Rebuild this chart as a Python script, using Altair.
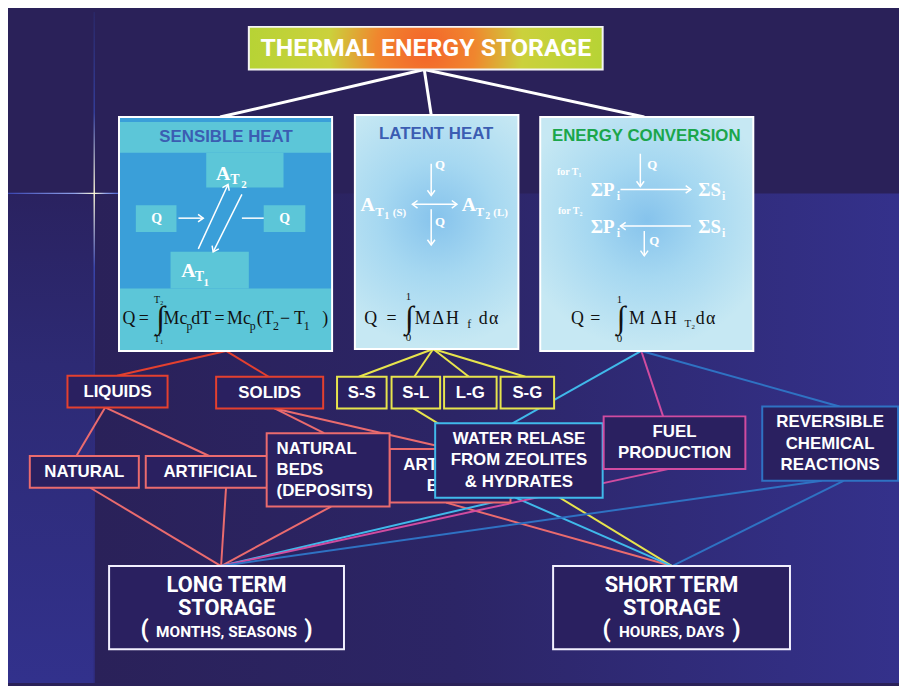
import math
import altair as alt
import pandas as pd

# ---------------- diagram content ----------------
ROOT = "THERMAL ENERGY STORAGE"
METHODS = ["SENSIBLE HEAT", "LATENT HEAT", "ENERGY CONVERSION"]

NODES = ["LIQUIDS", "SOLIDS", "S-S", "S-L", "L-G", "S-G",
         "NATURAL", "ARTIFICIAL", "ARTIFICIAL BEDS", "NATURAL BEDS",
         "WATER", "FUEL", "REVERSIBLE", "LONG", "SHORT"]

NODE_TEXT = {
    "LIQUIDS": ["LIQUIDS"], "SOLIDS": ["SOLIDS"],
    "S-S": ["S-S"], "S-L": ["S-L"], "L-G": ["L-G"], "S-G": ["S-G"],
    "NATURAL": ["NATURAL"], "ARTIFICIAL": ["ARTIFICIAL"],
    "ARTIFICIAL BEDS": ["ARTIFICIAL", "BEDS"],
    "NATURAL BEDS": ["NATURAL", "BEDS", "(DEPOSITS)"],
    "WATER": ["WATER RELASE", "FROM ZEOLITES", "& HYDRATES"],
    "FUEL": ["FUEL", "PRODUCTION"],
    "REVERSIBLE": ["REVERSIBLE", "CHEMICAL", "REACTIONS"],
}
STORAGE_TEXT = {
    "LONG": ["LONG TERM", "STORAGE", "MONTHS, SEASONS"],
    "SHORT": ["SHORT TERM", "STORAGE", "HOURES, DAYS"],
}

NODE_FAMILY = {
    ROOT: "root", "SENSIBLE HEAT": "root", "LATENT HEAT": "root", "ENERGY CONVERSION": "root",
    "LIQUIDS": "sensible", "SOLIDS": "sensible",
    "S-S": "latent", "S-L": "latent", "L-G": "latent", "S-G": "latent",
    "NATURAL": "material", "ARTIFICIAL": "material",
    "ARTIFICIAL BEDS": "material", "NATURAL BEDS": "material",
    "WATER": "water", "FUEL": "fuel", "REVERSIBLE": "reversible",
    "LONG": "storage", "SHORT": "storage",
}

EDGES = [
    (ROOT, "SENSIBLE HEAT"), (ROOT, "LATENT HEAT"), (ROOT, "ENERGY CONVERSION"),
    ("SENSIBLE HEAT", "LIQUIDS"), ("SENSIBLE HEAT", "SOLIDS"),
    ("LATENT HEAT", "S-S"), ("LATENT HEAT", "S-L"), ("LATENT HEAT", "L-G"), ("LATENT HEAT", "S-G"),
    ("ENERGY CONVERSION", "WATER"), ("ENERGY CONVERSION", "FUEL"), ("ENERGY CONVERSION", "REVERSIBLE"),
    ("LIQUIDS", "NATURAL"), ("LIQUIDS", "ARTIFICIAL"),
    ("SOLIDS", "NATURAL BEDS"), ("SOLIDS", "ARTIFICIAL BEDS"),
    ("NATURAL", "LONG"), ("ARTIFICIAL", "LONG"), ("NATURAL BEDS", "LONG"),
    ("ARTIFICIAL BEDS", "SHORT"), ("S-L", "SHORT"),
    ("WATER", "LONG"), ("WATER", "SHORT"), ("FUEL", "LONG"),
    ("REVERSIBLE", "LONG"), ("REVERSIBLE", "SHORT"),
]

# formula / illustration glyphs inside the three method panels
PANEL_SYMBOLS = [  # bold white serif: text, x, y, size
    ("A", 225, 172, 20), ("T", 237, 179, 14), ("2", 246, 184, 11),
    ("A", 190, 270, 20), ("T", 201, 276, 14), ("1", 208, 282, 11),
    ("Q", 158, 218, 14), ("Q", 287, 218, 14),
    ("Q", 444, 163, 13), ("Q", 444, 221, 13),
    ("A", 371, 204, 20), ("T", 383, 211, 13), ("1", 390, 215, 10), ("(S)", 403, 212, 11),
    ("A", 473, 204, 20), ("T", 484, 211, 13), ("2", 492, 215, 10), ("(L)", 505, 212, 11),
    ("ΣP", 608, 189, 19), ("i", 624, 195, 12), ("ΣS", 716, 189, 19), ("i", 730, 195, 12),
    ("ΣP", 608, 226, 19), ("i", 624, 232, 12), ("ΣS", 716, 226, 19), ("i", 730, 232, 12),
    ("Q", 658, 163, 13), ("Q", 660, 240, 13),
]
PANEL_NOTES = [("for T₁", 562, 170, 10), ("for T₂", 563, 210, 10)]
FORMULAS = [  # black serif: text, x, y, size
    ("Q", 130, 319, 18), ("=", 145, 319, 18), ("∫", 162, 318, 32), ("T₂", 160, 300, 10), ("T₁", 160, 339, 10),
    ("Mc", 177, 319, 18), ("p", 191, 326, 12), ("dT", 203, 319, 18), ("=", 221.5, 319, 18),
    ("Mc", 241, 319, 18), ("p", 255, 326, 12), ("(T", 267.5, 319, 18), ("2", 278.5, 326, 12),
    ("−", 287.5, 319, 18), ("T", 302, 319, 18), ("1", 309.5, 326, 12), (")", 328, 319, 18),
    ("Q", 374, 319, 18), ("=", 395, 319, 18), ("∫", 413, 318, 32), ("1", 412, 297, 11), ("0", 412, 338, 11),
    ("M", 426.5, 319, 18), ("Δ", 442, 319, 18), ("H", 456.5, 319, 18), ("f", 473.5, 324, 12),
    ("d", 487.5, 319, 18), ("α", 498, 319, 18),
    ("Q", 582.5, 319, 18), ("=", 600.5, 319, 18), ("∫", 626.5, 318, 32), ("1", 625, 300, 11), ("0", 625, 339, 11),
    ("M", 642.5, 319, 18), ("Δ", 662, 319, 18), ("H", 676.5, 319, 18), ("T", 694, 324, 11), ("2", 699.5, 327, 7),
    ("d", 706.5, 319, 18), ("α", 717, 319, 18),
]

# ---------------- layout (screen pixels) ----------------
BOX = {
    ROOT: (251, 24, 608, 67),
    "SENSIBLE HEAT": (120, 115, 335, 351),
    "LATENT HEAT": (358, 113, 523, 349),
    "ENERGY CONVERSION": (545, 115, 760, 351),
    "LIQUIDS": (68, 376, 169, 408), "SOLIDS": (218, 377, 326, 409),
    "S-S": (340, 377, 390, 409), "S-L": (395, 377, 444, 409),
    "L-G": (448, 377, 501, 409), "S-G": (505, 377, 559, 409),
    "NATURAL": (30, 457, 140, 489), "ARTIFICIAL": (147, 457, 277, 489),
    "ARTIFICIAL BEDS": (393, 450, 515, 504), "NATURAL BEDS": (269, 434, 393, 508),
    "WATER": (439, 424, 608, 499), "FUEL": (609, 417, 752, 470),
    "REVERSIBLE": (769, 407, 906, 482),
    "LONG": (110, 568, 347, 652), "SHORT": (558, 568, 797, 652),
}
EDGE_ANCHORS = [  # x on source bottom, x on target top
    (428, 222), (428, 435), (428, 650),
    (228, 118), (228, 271),
    (437, 362), (437, 418), (437, 473), (437, 530),
    (647, 517), (647, 669), (647, 847),
    (106, 77), (106, 211), (277, 327), (277, 455),
    (91, 223), (228, 223), (334, 223), (450, 678), (417, 678),
    (517, 223), (520, 678), (675, 223), (829, 223), (851, 678),
]
SENSIBLE_TILES = [(121, 120, 334, 151), (208, 151, 286, 186), (137, 204, 178, 231),
                  (266, 204, 308, 231), (172, 251, 251, 288), (121, 288, 334, 350)]
ARROWS = [  # x1, y1, x2, y2, heads
    (180, 217, 205, 217, "end"), (244, 217, 266, 217, "none"),
    (200, 248, 230, 183, "end"), (244, 193, 215, 251, "end"),
    (435, 162, 435, 194, "end"), (416, 203, 461, 203, "both"), (435, 208, 435, 244, "end"),
    (646, 152, 646, 185, "end"), (626, 188, 697, 188, "end"),
    (697, 225, 626, 225, "end"), (650, 230, 650, 255, "end"),
]
HEADER_POS = {"SENSIBLE HEAT": (228, 135), "LATENT HEAT": (440, 132), "ENERGY CONVERSION": (652, 134)}
STORAGE_PARENS = {"LONG": (146, 311), "SHORT": (612, 743)}

# ---------------- styles ----------------
FAMILY_COLOR = {"root": "#ffffff", "sensible": "#e4402f", "material": "#ea6b6e", "latent": "#e7e44d",
                "water": "#40b9ea", "fuel": "#d04ca0", "reversible": "#2f72c3", "storage": "#f2f0ff"}
HEADER_COLOR = {"SENSIBLE HEAT": "#3b5db2", "LATENT HEAT": "#3b5db2", "ENERGY CONVERSION": "#1ba64b"}
BG = "#2a2159"
BOX_FILL = "#2a2060"
SANS = "Liberation Sans, Arial, sans-serif"
NARROW = "Roboto, Liberation Sans, sans-serif"
SERIF = "Liberation Serif, Times New Roman, serif"

XS = alt.Scale(domain=[8, 907], nice=False, zero=False)
YS = alt.Scale(domain=[8, 686], nice=False, zero=False, reverse=True)


def rect_layer(df, **mark):
    return alt.Chart(df).mark_rect(**mark).encode(
        x=alt.X("x1:Q", scale=XS, axis=None), x2="x2:Q",
        y=alt.Y("y1:Q", scale=YS, axis=None), y2="y2:Q")


def box_df(names):
    return pd.DataFrame([dict(name=n, x1=BOX[n][0], y1=BOX[n][1], x2=BOX[n][2], y2=BOX[n][3],
                              stroke=FAMILY_COLOR[NODE_FAMILY[n]]) for n in names])


def text_layer(rows, font, weight="normal", align="center"):
    df = pd.DataFrame(rows, columns=["t", "x", "y", "s", "c"])
    return alt.Chart(df).mark_text(font=font, fontWeight=weight, align=align, baseline="middle").encode(
        x=alt.X("x:Q", scale=XS, axis=None), y=alt.Y("y:Q", scale=YS, axis=None),
        text="t:N", size=alt.Size("s:Q", scale=None), color=alt.Color("c:N", scale=None))


def one(x1, y1, x2, y2):
    return pd.DataFrame([dict(x1=x1, y1=y1, x2=x2, y2=y2)])


def lin(stops, vertical=False):
    return alt.LinearGradient(gradient="linear", x1=0, y1=0, x2=0 if vertical else 1, y2=1 if vertical else 0,
                              stops=[alt.GradientStop(color=c, offset=o) for o, c in stops])


def rad(stops, cx=0.5, cy=0.5, r=0.5):
    return alt.RadialGradient(gradient="radial", x1=cx, y1=cy, r1=0, x2=cx, y2=cy, r2=r,
                              stops=[alt.GradientStop(color=c, offset=o) for o, c in stops])


layers = []

# background regions and flare
layers.append(rect_layer(one(95, 192, 907, 686), fill=lin([(0, "#2a2159"), (0.45, "#2c2566"), (1, "#34318b")])))
layers.append(rect_layer(one(8, 192, 95, 686),
                         fill=lin([(0, "#2a2260"), (0.35, "#2d2a74"), (1, "#32318c")], vertical=True)))
layers.append(rect_layer(one(94.3, 9, 95.7, 686),
                         fill=lin([(0, "#2a2868"), (0.15, "#34409e"), (0.27, "#fffbd8"), (0.38, "#3a48b0"),
                                   (0.55, "#2f2d80"), (1, "#2e2b7c")], vertical=True)))
layers.append(rect_layer(one(8, 191.3, 120, 192.7),
                         fill=lin([(0, "#3a45b0"), (0.6, "#8fa0e8"), (0.78, "#fffbd8"), (0.88, "#8fa0e8"),
                                   (1, "#4a60d0")])))

# connectors
erows = []
for (s, d), (ax, bx) in zip(EDGES, EDGE_ANCHORS):
    fam = NODE_FAMILY[s] if s == ROOT or NODE_FAMILY[d] == "storage" else NODE_FAMILY[d]
    erows.append(dict(x1=ax, y1=BOX[s][3], x2=bx, y2=BOX[d][1], c=FAMILY_COLOR[fam],
                      w=3 if s == ROOT else 2))
edf = pd.DataFrame(erows)
layers.append(alt.Chart(edf).mark_rule().encode(
    x=alt.X("x1:Q", scale=XS, axis=None), x2="x2:Q",
    y=alt.Y("y1:Q", scale=YS, axis=None), y2="y2:Q",
    color=alt.Color("c:N", scale=None), strokeWidth=alt.StrokeWidth("w:Q", scale=None)))

# title box
tb = BOX[ROOT]
layers.append(rect_layer(one(*tb), fill=rad([(0, "#f4622a"), (0.28, "#f0862e"), (0.55, "#cbd13c"), (1, "#b7d335")]),
                         stroke="#f4f4f4", strokeWidth=2))
layers.append(text_layer([(ROOT, (tb[0] + tb[2]) / 2, 45, 25, "#ffffff")], NARROW, "bold"))

# sensible heat panel
sb = BOX["SENSIBLE HEAT"]
layers.append(rect_layer(one(*sb), fill="#3a9fd9"))
layers.append(rect_layer(pd.DataFrame(SENSIBLE_TILES, columns=["x1", "y1", "x2", "y2"]), fill="#5cc6d8"))
# latent and conversion panels
for m in METHODS[1:]:
    layers.append(rect_layer(one(*BOX[m]),
                             fill=rad([(0, "#86c3ec"), (0.45, "#a6d8f1"), (1, "#c6e8f3")], cy=0.44, r=0.55)))
layers.append(rect_layer(box_df(METHODS), filled=False, stroke="#ffffff", strokeWidth=2))
layers.append(text_layer([(m, HEADER_POS[m][0], HEADER_POS[m][1], 17, HEADER_COLOR[m]) for m in METHODS],
                         SANS, "bold"))

# arrows inside panels
arows, hrows = [], []
for x1, y1, x2, y2, heads in ARROWS:
    arows.append(dict(x1=x1, y1=y1, x2=x2, y2=y2))
    ang = math.degrees(math.atan2(x2 - x1, -(y2 - y1))) % 360
    if heads in ("end", "both"):
        hrows.append(dict(x=x2, y=y2, a=ang))
    if heads == "both":
        hrows.append(dict(x=x1, y=y1, a=(ang + 180) % 360))
layers.append(alt.Chart(pd.DataFrame(arows)).mark_rule(color="#ffffff", strokeWidth=1.5).encode(
    x=alt.X("x1:Q", scale=XS, axis=None), x2="x2:Q",
    y=alt.Y("y1:Q", scale=YS, axis=None), y2="y2:Q"))
layers.append(alt.Chart(pd.DataFrame(hrows)).mark_point(
    shape="M-0.8,1.1L0,0L0.8,1.1", filled=False, size=90, strokeWidth=1.5, color="#ffffff", opacity=1).encode(
    x=alt.X("x:Q", scale=XS, axis=None), y=alt.Y("y:Q", scale=YS, axis=None),
    angle=alt.Angle("a:Q", scale=None)))

layers.append(text_layer([r + ("#ffffff",) for r in PANEL_SYMBOLS], SERIF, "bold"))
layers.append(text_layer([r + ("#ffffff",) for r in PANEL_NOTES], SERIF, "bold", align="left"))
layers.append(text_layer([r + ("#111111",) for r in FORMULAS], SERIF))


# lower boxes
def node_text_rows(n):
    x1, y1, x2, y2 = BOX[n]
    lines = NODE_TEXT[n]
    cy = (y1 + y2) / 2
    rows = []
    for i, t in enumerate(lines):
        rows.append((t, x1 + 10 if n == "NATURAL BEDS" else (x1 + x2) / 2,
                     cy + (i - (len(lines) - 1) / 2) * 21.5, 17, "#ffffff"))
    return rows


layers.append(rect_layer(box_df(["ARTIFICIAL BEDS"]), fill=BOX_FILL, strokeWidth=2).encode(
    stroke=alt.Stroke("stroke:N", scale=None)))
layers.append(text_layer(node_text_rows("ARTIFICIAL BEDS"), SANS, "bold"))
rest = [n for n in NODES if n != "ARTIFICIAL BEDS"]
layers.append(rect_layer(box_df(rest), fill=BOX_FILL, strokeWidth=2).encode(
    stroke=alt.Stroke("stroke:N", scale=None)))
center_rows, left_rows = [], []
for n in rest:
    if n in NODE_TEXT:
        (left_rows if n == "NATURAL BEDS" else center_rows).extend(node_text_rows(n))
layers.append(text_layer(center_rows, SANS, "bold"))
layers.append(text_layer(left_rows, SANS, "bold", align="left"))

srows = []
for n, lines in STORAGE_TEXT.items():
    x1, y1, x2, y2 = BOX[n]
    cx = (x1 + x2) / 2
    srows += [(lines[0], cx, 587, 22, "#ffffff"), (lines[1], cx, 610, 22, "#ffffff"),
              (lines[2], cx, 635, 15.5, "#ffffff"),
              ("(", STORAGE_PARENS[n][0], 633, 24, "#ffffff"), (")", STORAGE_PARENS[n][1], 633, 24, "#ffffff")]
layers.append(text_layer(srows, NARROW, "bold"))

chart = alt.layer(*layers).properties(
    width=899, height=678, background=BG, padding=0,
    autosize=alt.AutoSizeParams(type="none")
).configure_view(strokeWidth=0)

chart.save("out.html", embed_options={"renderer": "svg", "actions": False})
